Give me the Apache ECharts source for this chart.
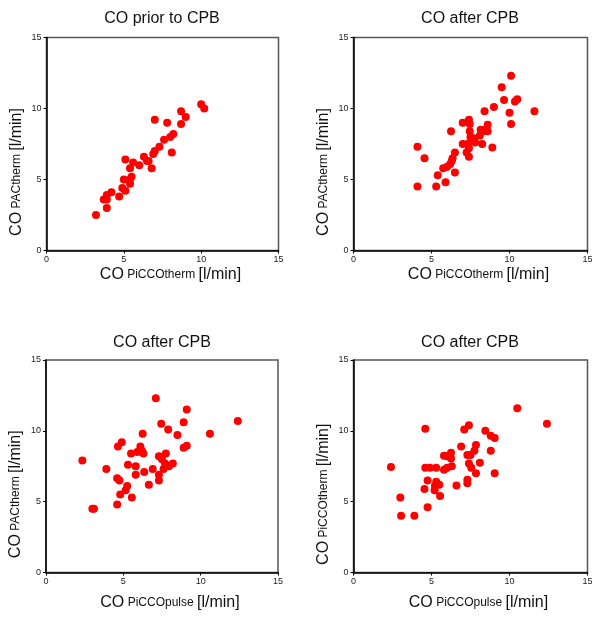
<!DOCTYPE html>
<html>
<head>
<meta charset="utf-8">
<script src="https://cdn.jsdelivr.net/npm/echarts@6/dist/echarts.min.js"></script>
<style>
html,body{margin:0;padding:0;background:#fff;}
#main{width:600px;height:619px;}
</style>
</head>
<body>
<div id="main"></div>
<script>
// ---- Data ----
const titles = ['CO prior to CPB', 'CO after CPB', 'CO after CPB', 'CO after CPB'];
const xNames = ['PiCCOtherm', 'PiCCOtherm', 'PiCCOpulse', 'PiCCOpulse'];
const yNames = ['PACtherm', 'PACtherm', 'PACtherm', 'PiCCOtherm'];
const tickValues = [0, 5, 10, 15];

const prior = [
  [3.2,2.5],[3.9,3.0],[3.7,3.6],[3.9,3.6],[3.9,3.9],[4.2,4.1],[4.7,3.8],[5.0,5.0],[4.9,4.4],
  [5.1,4.2],[5.1,6.4],[5.4,5.8],[5.5,5.2],[5.4,5.0],[5.4,4.7],[5.6,6.2],[6.0,6.0],[6.3,6.6],
  [6.5,6.3],[6.6,6.3],[6.8,5.8],[6.9,6.8],[7.0,7.0],[7.0,9.2],[7.3,7.3],[7.6,7.8],[7.8,9.0],
  [8.0,8.0],[8.2,8.2],[8.1,6.9],[8.7,9.8],[8.7,8.9],[9.0,9.4],[10.0,10.3],[10.2,10.0]
];
const afterTherm = [
  [4.1,7.3],[4.55,6.5],[4.1,4.5],[5.3,4.5],[5.4,5.3],[5.9,4.8],[5.75,5.8],[6.0,5.9],[6.2,6.1],
  [6.3,6.3],[6.35,6.5],[6.5,6.9],[6.5,5.5],[6.25,8.4],[7.0,9.0],[7.0,7.5],[7.3,7.5],[7.4,7.2],
  [7.4,6.6],[7.25,6.9],[7.4,9.2],[7.45,8.9],[7.45,8.4],[7.5,8.0],[7.7,7.9],[7.55,7.7],[7.8,7.6],
  [8.1,8.1],[8.15,8.5],[8.3,8.4],[8.45,8.5],[8.25,7.5],[8.4,9.8],[8.6,8.85],[8.6,8.4],[8.9,7.25],
  [9.0,10.1],[9.5,11.5],[9.65,10.6],[10.0,9.7],[10.1,12.3],[10.1,8.9],[10.35,10.5],[10.5,10.65],[11.6,9.8]
];
const pulseVsPac = [
  [2.35,7.9],[3.0,4.5],[3.1,4.5],[3.9,7.3],[4.6,4.8],[4.6,6.65],[4.75,6.5],[4.8,5.5],[4.65,8.9],
  [4.9,9.2],[5.15,5.8],[5.25,6.1],[5.3,7.6],[5.5,8.4],[5.55,5.3],[5.8,7.5],[5.8,6.9],[5.9,8.5],
  [6.1,8.9],[6.2,8.6],[6.3,8.4],[6.25,9.8],[6.35,7.1],[6.65,6.2],[6.9,7.3],[7.1,12.3],[7.3,8.2],
  [7.3,6.9],[7.3,6.5],[7.45,10.5],[7.5,8.0],[7.6,7.3],[7.75,8.4],[7.7,7.7],[7.9,10.1],[7.95,7.5],
  [8.2,7.7],[8.5,9.7],[8.9,10.6],[8.9,8.8],[9.1,8.95],[9.1,11.5],[10.6,9.8],[12.4,10.7]
];
const pulseVsTherm = [
  [2.4,7.45],[3.0,5.3],[3.05,4.0],[3.9,4.0],[4.6,10.15],[4.55,5.9],[4.6,7.4],[4.9,7.4],[5.3,7.4],
  [4.75,6.5],[4.75,4.6],[5.2,5.8],[5.3,6.4],[5.22,6.1],[5.5,6.2],[5.55,5.4],[5.8,8.25],[6.0,8.2],
  [6.25,8.45],[6.25,8.05],[5.8,7.25],[6.0,7.4],[6.3,7.5],[6.6,6.15],[6.9,8.9],[7.1,10.1],[7.3,8.3],
  [7.5,8.3],[7.75,8.6],[7.85,9.0],[7.3,6.55],[7.3,6.3],[7.4,10.4],[7.4,7.7],[7.55,7.4],[7.85,7.0],
  [8.1,7.75],[8.45,10.0],[8.8,9.65],[9.05,9.5],[8.8,8.6],[9.05,7.0],[10.5,11.6],[12.4,10.5]
];
const panels = [prior, afterTherm, pulseVsPac, pulseVsTherm];

// ---- Layout ----
const FONT = '"Liberation Sans", Arial, Helvetica, sans-serif';
const grids = [
  {left: 46.5, top: 37.5, width: 232, height: 213},
  {left: 353.5, top: 37.5, width: 234, height: 213},
  {left: 46, top: 360, width: 232, height: 212.5},
  {left: 353.5, top: 360, width: 234, height: 212.5}
];
const titlePos = [[162, 19], [470, 19], [162, 343], [470, 343]];
const xNameGap = [16, 16, 22, 22];

const rich = {
  a: {fontSize: 16, fontFamily: FONT, color: '#111'},
  b: {fontSize: 12, fontFamily: FONT, color: '#111'}
};

const option = {
  backgroundColor: '#fff',
  animation: false,
  grid: grids.map(g => Object.assign({show: true, borderColor: '#555', borderWidth: 1.5, backgroundColor: 'transparent', containLabel: false, outerBoundsMode: 'none'}, g)),
  xAxis: panels.map((_, i) => ({
    gridIndex: i, type: 'value', min: 0, max: 15, interval: 5,
    name: '{a|CO} {b|' + xNames[i] + '} {a|[l/min]}',
    nameLocation: 'middle', nameGap: xNameGap[i],
    nameTextStyle: {rich: rich, padding: [0, 0, 0, 16]},
    axisLine: {show: true, onZero: false, lineStyle: {color: '#000', width: 1.5}},
    axisTick: {show: true, length: 3, lineStyle: {color: '#000'}},
    axisLabel: {fontSize: 9, color: '#222', margin: 5, fontFamily: FONT},
    splitLine: {show: false}
  })),
  yAxis: panels.map((_, i) => ({
    gridIndex: i, type: 'value', min: 0, max: 15, interval: 5,
    name: '{a|CO} {b|' + yNames[i] + '} {a|[l/min]}',
    nameLocation: 'middle', nameGap: 22, nameRotate: 90,
    nameTextStyle: {rich: rich, padding: [0, 56, 0, 0]},
    axisLine: {show: true, onZero: false, lineStyle: {color: '#000', width: 1.5}},
    axisTick: {show: true, length: 3, lineStyle: {color: '#000'}},
    axisLabel: {fontSize: 9, color: '#222', margin: 5, fontFamily: FONT},
    splitLine: {show: false}
  })),
  series: panels.map((d, i) => ({
    type: 'scatter', xAxisIndex: i, yAxisIndex: i, data: d,
    symbol: 'circle', symbolSize: 8,
    itemStyle: {color: '#ff0000', opacity: 1}
  })),
  graphic: titles.map((t, i) => ({
    type: 'text', x: titlePos[i][0], y: titlePos[i][1],
    style: {text: t, align: 'center', verticalAlign: 'middle', textAlign: 'center', textVerticalAlign: 'middle',
            font: '16px ' + FONT, fill: '#111'}
  }))
};

const chart = echarts.init(document.getElementById('main'), null, {renderer: 'canvas'});
chart.setOption(option);
</script>
</body>
</html>
